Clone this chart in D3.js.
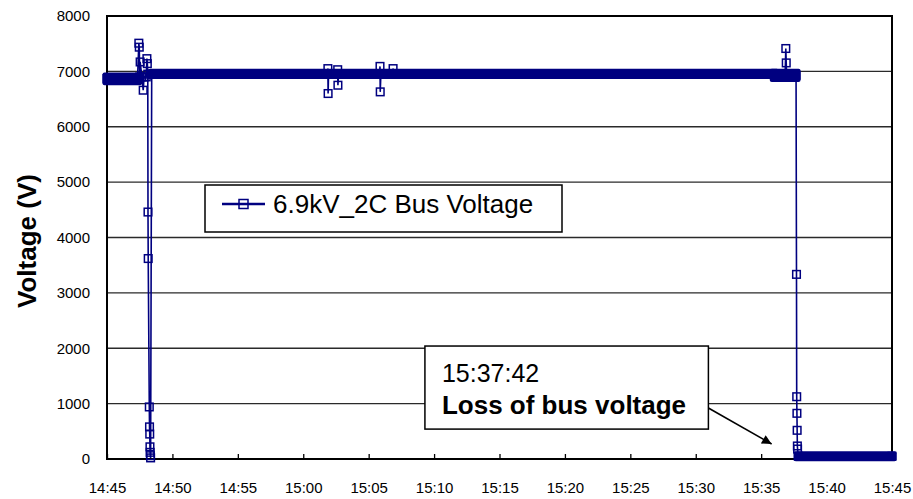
<!DOCTYPE html>
<html>
<head>
<meta charset="utf-8">
<title>6.9kV_2C Bus Voltage</title>
<style>
  body { margin: 0; background: #fff; }
  text { font-family: "Liberation Sans", Arial, sans-serif; fill: #000; }
  .grid line { stroke: #2a2a2a; stroke-width: 1.3; }
  .series { fill: none; stroke: #000080; stroke-width: 1.6; }
  .marker { fill: none; stroke: #000080; stroke-width: 1.5; }
  .band { fill: #000080; }
</style>
<script src="https://d3js.org/d3.v7.min.js"></script>
</head>
<body>
<div id="chart"></div>
<script>
// readings (time of day, volts) in the order they were logged
var times = [
  "14:45:00", "14:47:20", "14:47:26", "14:47:28", "14:47:30", "14:47:32", "14:47:40",
  "14:47:46", "14:47:50", "14:48:00", "14:48:03", "14:48:05", "14:48:07", "14:48:08",
  "14:48:09", "14:48:14", "14:48:15", "14:48:16", "14:48:17", "14:48:18", "14:48:19",
  "14:48:20", "14:48:25", "14:48:30",
  "15:01:50", "15:01:53", "15:01:54", "15:01:56",
  "15:02:36", "15:02:38", "15:02:39", "15:02:42",
  "15:05:50", "15:05:52", "15:05:53", "15:05:56",
  "15:06:50", "15:06:52", "15:06:54",
  "15:36:50", "15:36:53", "15:36:55", "15:36:57", "15:37:40",
  "15:37:42", "15:37:43", "15:37:44", "15:37:45", "15:37:46", "15:37:47",
  "15:37:50", "15:45:00"
];
var volts = [
  6870, 6870, 7509, 7437, 6900, 7170, 6900,
  6660, 6900, 6900, 7230, 7140, 6950, 4460,
  3620, 940, 580, 450, 220, 120, 60,
  20, 6950, 6955,
  6955, 7050, 6600, 6955,
  6955, 7030, 6750, 6955,
  6955, 7090, 6630, 6955,
  6955, 7050, 6955,
  6955, 7413, 7153, 6900, 6930,
  3334, 1125, 825, 518, 235, 180,
  50, 50
];
// stretches where the samples are so dense their markers merge: start, end, low, high
var runStart = ["14:45:00", "14:48:30", "15:36:00", "15:37:50"];
var runEnd   = ["14:47:20", "15:36:00", "15:37:40", "15:45:00"];
var runLow   = [6830, 6945, 6890, 40];
var runHigh  = [6900, 6965, 6965, 60];

var yTicks = [0, 1000, 2000, 3000, 4000, 5000, 6000, 7000, 8000];
var xTicks = ["14:45", "14:50", "14:55", "15:00", "15:05", "15:10", "15:15",
              "15:20", "15:25", "15:30", "15:35", "15:40", "15:45"];

var seriesName = "6.9kV_2C Bus Voltage";
var noteTime = "15:37:42";
var noteText = "Loss of bus voltage";
// note box corners (time, volts) and arrow tip
var noteBox = {t0: "15:09:18", t1: "15:30:58", v0: 540, v1: 2040};
var noteTip = {t: "15:35:48", v: 270};

var parseT = d3.timeParse("%H:%M:%S");
var parseM = d3.timeParse("%H:%M");

var margin = {top: 16, right: 21, bottom: 40, left: 107},
    width = 913 - margin.left - margin.right,
    height = 499 - margin.top - margin.bottom;

var x = d3.scaleTime()
  .domain([parseM("14:45"), parseM("15:45")])
  .range([0, width]);
var y = d3.scaleLinear()
  .domain([0, 8000])
  .range([height, 0]);

var svg = d3.select("#chart").append("svg")
  .attr("width", 913)
  .attr("height", 499)
  .style("display", "block")
  .append("g")
  .attr("transform", "translate(" + margin.left + "," + margin.top + ")");

// horizontal grid
svg.append("g").attr("class", "grid")
  .selectAll("line").data(yTicks).enter()
  .append("line")
  .attr("x1", 0).attr("x2", width)
  .attr("y1", d => y(d)).attr("y2", d => y(d));

// y axis labels
var yAxis = d3.axisLeft(y).tickValues(yTicks).tickSize(0).tickPadding(17)
  .tickFormat(d3.format("d"));
svg.append("g").call(yAxis)
  .call(g => g.select(".domain").remove())
  .selectAll("text").style("font-size", "15px")
  .style("font-family", '"Liberation Sans", Arial, sans-serif');

// x axis with inward ticks
var xAxis = d3.axisBottom(x).tickValues(xTicks.map(parseM))
  .tickSize(-5).tickPadding(23).tickFormat(d3.timeFormat("%H:%M"));
svg.append("g")
  .attr("transform", "translate(0," + height + ")")
  .call(xAxis)
  .call(g => g.select(".domain").remove())
  .call(g => g.selectAll("line").attr("stroke", "#000").attr("stroke-width", 1.3))
  .selectAll("text").style("font-size", "15px")
  .style("font-family", '"Liberation Sans", Arial, sans-serif');

// plot frame
svg.append("rect")
  .attr("width", width).attr("height", height)
  .attr("fill", "none").attr("stroke", "#000").attr("stroke-width", 2);

// axis title
svg.append("text")
  .attr("transform", "translate(" + (36 - margin.left) + "," + (241 - margin.top) + ") rotate(-90)")
  .attr("text-anchor", "middle")
  .style("font-size", "26px").style("font-weight", "bold")
  .text("Voltage (V)");

var pts = times.map((t, i) => ({t: parseT(t), v: volts[i]}));

var line = d3.line()
  .x(d => x(d.t))
  .y(d => y(d.v));

svg.append("path").datum(pts)
  .attr("class", "series")
  .attr("d", line);

// merged marker bands
var half = 4.5;
svg.append("g").selectAll("rect").data(runStart).enter()
  .append("rect")
  .attr("class", "band")
  .attr("x", (d, i) => x(parseT(runStart[i])) - half)
  .attr("width", (d, i) => x(parseT(runEnd[i])) - x(parseT(runStart[i])) + 2 * half)
  .attr("y", (d, i) => y(runHigh[i]) - half)
  .attr("height", (d, i) => y(runLow[i]) - y(runHigh[i]) + 2 * half)
  .attr("rx", 2);

// square markers
svg.append("g").selectAll("rect").data(pts).enter()
  .append("rect")
  .attr("class", "marker")
  .attr("x", d => x(d.t) - 3.8)
  .attr("y", d => y(d.v) - 3.8)
  .attr("width", 7.6).attr("height", 7.6);

// legend
var lg = svg.append("g").attr("transform", "translate(" + (205 - margin.left) + "," + (185 - margin.top) + ")");
lg.append("rect").attr("width", 357).attr("height", 47)
  .attr("fill", "#fff").attr("stroke", "#000").attr("stroke-width", 1.5);
lg.append("line").attr("x1", 17).attr("x2", 60).attr("y1", 19).attr("y2", 19)
  .attr("stroke", "#000080").attr("stroke-width", 2.5);
lg.append("rect").attr("class", "marker").attr("x", 34).attr("y", 14.5)
  .attr("width", 9).attr("height", 9).attr("fill", "#fff");
lg.append("text").attr("x", 68).attr("y", 28)
  .style("font-size", "26px").text(seriesName);

// annotation
var bx0 = x(parseT(noteBox.t0)), bx1 = x(parseT(noteBox.t1)),
    by0 = y(noteBox.v1), by1 = y(noteBox.v0);
var tipX = x(parseT(noteTip.t)), tipY = y(noteTip.v);

svg.append("defs").append("marker")
  .attr("id", "arrow").attr("viewBox", "0 0 10 10")
  .attr("refX", 10).attr("refY", 5)
  .attr("markerWidth", 7).attr("markerHeight", 6)
  .attr("markerUnits", "strokeWidth")
  .attr("orient", "auto")
  .append("path").attr("d", "M0,0L10,5L0,10Z").attr("fill", "#000");

svg.append("line")
  .attr("x1", bx1).attr("y1", by0 + 62)
  .attr("x2", tipX).attr("y2", tipY)
  .attr("stroke", "#000").attr("stroke-width", 1.6)
  .attr("marker-end", "url(#arrow)");

svg.append("rect")
  .attr("x", bx0).attr("y", by0)
  .attr("width", bx1 - bx0).attr("height", by1 - by0)
  .attr("fill", "#fff").attr("stroke", "#000").attr("stroke-width", 1.5);
svg.append("text").attr("x", bx0 + 17).attr("y", by0 + 36)
  .style("font-size", "25px").text(noteTime);
svg.append("text").attr("x", bx0 + 17).attr("y", by0 + 68)
  .style("font-size", "26px").style("font-weight", "bold").text(noteText);
</script>
</body>
</html>
